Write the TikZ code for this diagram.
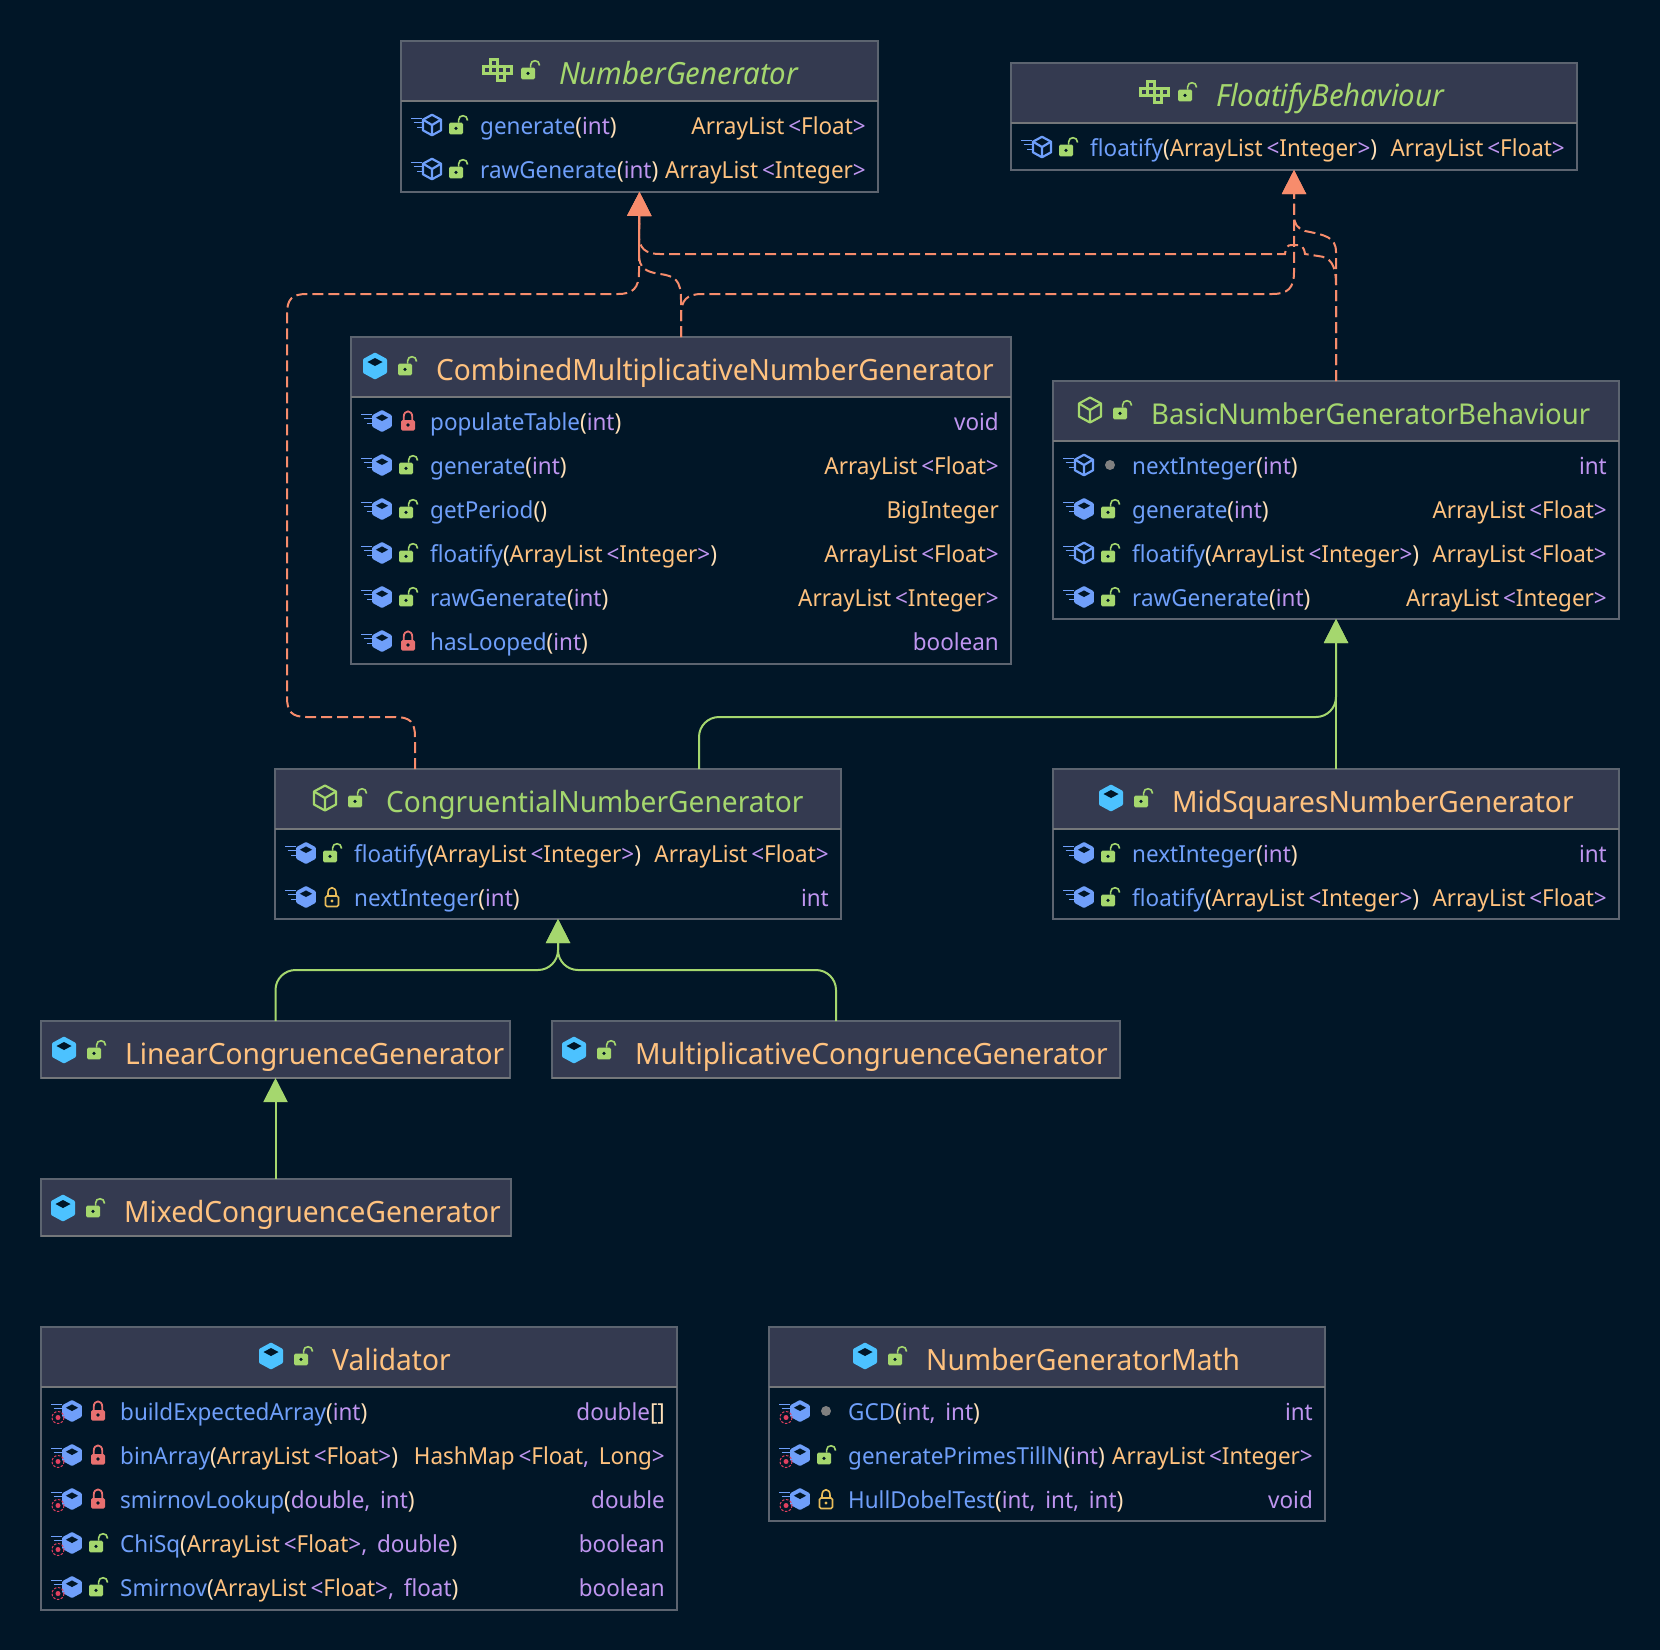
\documentclass[tikz,border=0pt]{standalone}
\usepackage{fontspec}
\usepackage{xcolor}
\usetikzlibrary{calc,arrows.meta}
\setmainfont[FakeStretch=0.96]{Noto Sans}
\definecolor{bgdeep}{HTML}{011627}
\definecolor{headfill}{HTML}{343A50}
\definecolor{frameline}{HTML}{5C6470}
\definecolor{headline}{HTML}{74777A}
\definecolor{ifacegreen}{HTML}{A5D76E}
\definecolor{classpeach}{HTML}{FFC27F}
\definecolor{cubecyan}{HTML}{4CC2FF}
\definecolor{fnblue}{HTML}{6F9FFA}
\definecolor{primpurple}{HTML}{BF95F0}
\definecolor{parencream}{HTML}{FFE0B8}
\definecolor{implorange}{HTML}{F78C6C}
\definecolor{lockred}{HTML}{E87070}
\definecolor{lockgold}{HTML}{E8BC5A}
\definecolor{dotgray}{HTML}{808080}
\definecolor{staticred}{HTML}{E0405F}
\newcommand{\titlesize}{\fontsize{29.3}{32}\selectfont}
\newcommand{\ifacesize}{\fontsize{30.6}{32}\selectfont}
\newcommand{\rowsize}{\fontsize{23.4}{28}\selectfont}
\newcommand{\ty}[1]{\textcolor{classpeach}{#1}}
\newcommand{\pr}[1]{\textcolor{primpurple}{#1}}
\newcommand{\cm}{\pr{,}\,\ }
\newcommand{\alist}[1]{\ty{ArrayList}\,\pr{<}\ty{#1}\pr{>}}
\newcommand{\meth}[2]{\textcolor{fnblue}{#1}\textcolor{parencream}{(}#2\textcolor{parencream}{)}}
\tikzset{
  classbox/.style={draw=frameline,line width=1.2,fill=bgdeep,anchor=north west,inner sep=0,outer sep=0},
  headbox/.style={draw=frameline,line width=1.2,fill=headfill,anchor=north west,inner sep=0,outer sep=0},
  classname/.style={anchor=base west,inner sep=0,font=\titlesize},
  rowleft/.style={anchor=base west,inner sep=0,font=\rowsize},
  rowright/.style={anchor=base east,inner sep=0,font=\rowsize},
  implements/.style={implorange,line width=2,dash pattern=on 11 off 5,-{Triangle[length=24,width=24]}},
  extends/.style={ifacegreen,line width=2,rounded corners=20,-{Triangle[length=24,width=24]}},
  pics/cubesolid/.style={code={
    \fill[#1,rounded corners=1] (0,-13.5)--(12,-7)--(12,7)--(0,13.5)--(-12,7)--(-12,-7)--cycle;
    \fill[bgdeep] (0,-8)--(7.5,-4)--(0,0)--(-7.5,-4)--cycle;}},
  pics/cubeline/.style={code={
    \draw[#1,line width=2.2,line join=round] (0,-12.5)--(11,-6.5)--(11,6.5)--(0,12.5)--(-11,6.5)--(-11,-6.5)--cycle;
    \draw[#1,line width=2.2,line join=round] (-11,-6.5)--(0,0)--(11,-6.5) (0,0)--(0,12.5);}},
  pics/ifaceicon/.style={code={
    \foreach \cx/\cy in {-11/0,-4/0,3/0,10/0,-4/-7,3/7}{
      \draw[ifacegreen,line width=2.1] (\cx-3.5,\cy-3.5) rectangle (\cx+3.5,\cy+3.5);}}},
  pics/lockopen/.style={code={
    \fill[ifacegreen,rounded corners=1.5] (-7,-2.5) rectangle (7,9.3);
    \fill[bgdeep] (0,3.4) circle (1.8);
    \draw[ifacegreen,line width=1.6] (2.6,-2.5)--(2.6,-5) .. controls (2.6,-10.8) and (11.6,-10.8) .. (11.6,-4.5);}},
  pics/lockshut/.style={code={
    \fill[lockred,rounded corners=1.5] (-5,-1) rectangle (9,9.5);
    \fill[bgdeep] (2,4) circle (1.8);
    \draw[lockred,line width=1.8] (-2.3,-1)--(-2.3,-4) .. controls (-2.3,-11.5) and (6.3,-11.5) .. (6.3,-4)--(6.3,-1);}},
  pics/lockgate/.style={code={
    \draw[lockgold,line width=1.6,rounded corners=1.5] (-4.5,-1) rectangle (8.5,9.5);
    \fill[lockgold] (2,4) circle (1.7);
    \draw[lockgold,line width=1.6] (-2,-1)--(-2,-4) .. controls (-2,-11) and (6,-11) .. (6,-4)--(6,-1);}},
  pics/lockdot/.style={code={\fill[dotgray] (2,0) circle (5);}},
  pics/rowlines/.style={code={
    \draw[fnblue,line width=1.5] (-21,-6.7)--(-10.5,-6.7) (-18.5,-2.3)--(-10.5,-2.3) (-15,2.7)--(-10.5,2.7);}},
  pics/rowline/.style={code={\pic {rowlines}; \pic[scale=.82] {cubeline=fnblue};}},
  pics/rowsolid/.style={code={\pic {rowlines}; \pic[scale=.82] {cubesolid=fnblue};}},
  pics/rowstatic/.style={code={
    \draw[fnblue,line width=1.5] (-21,-6.7)--(-10.5,-6.7) (-18.5,-2.3)--(-10.5,-2.3);
    \pic[scale=.82] {cubesolid=fnblue};
    \draw[staticred,line width=1,dash pattern=on 2.5 off 1.5] (-14,6.5) circle (6);
    \fill[staticred] (-14,6.5) circle (2.5);}},
}
\newcommand{\umlclass}[9]{
  \node[classbox,minimum width=#4,minimum height=#5] (#1) at (#2,#3) {};
  \node[headbox,minimum width=#4,minimum height=#6] (#1head) at (#2,#3) {};
  \draw[headline,line width=2] (#1head.south west)--(#1head.south east);
  \node[classname] (#1title) at (#7,#3+43) {#9};
  \pic at ($(#1title.base west)+(-61,-14)$) {#8};
  \pic at ($(#1title.base west)+(-31,-14)$) {lockopen};
}
\newcommand{\umlrows}[2]{
  \foreach \mi/\lk/\lbl/\ret [count=\i] in {#2}{
    \pic at ($(#1head.south west)+(31,24+44*\i-44)$) {\mi};
    \pic at ($(#1head.south west)+(55,24+44*\i-44)$) {\lk};
    \node[rowleft] (#1name\i) at ($(#1head.south west)+(79,33+44*\i-44)$) {\lbl};
    \node[rowright] (#1type\i) at ($(#1head.south east)+(-12,33+44*\i-44)$) {\ret};
  }
}
\begin{document}
\begin{tikzpicture}[x=1pt,y=-1pt]
\fill[bgdeep] (0,0) rectangle (1660,1650);
\useasboundingbox (0,0) rectangle (1660,1650);
% interfaces
\umlclass{numgen}{401}{41}{477}{151}{60}{559}{ifaceicon}{\color{ifacegreen}\ifacesize\itshape NumberGenerator}
\umlrows{numgen}{rowline/lockopen/{\meth{generate}{\pr{int}}}/{\alist{Float}},
  rowline/lockopen/{\meth{rawGenerate}{\pr{int}}}/{\alist{Integer}}}
\umlclass{floaty}{1011}{63}{566}{107}{60}{1216}{ifaceicon}{\color{ifacegreen}\ifacesize\itshape FloatifyBehaviour}
\umlrows{floaty}{rowline/lockopen/{\meth{floatify}{\alist{Integer}}}/{\alist{Float}}}
% implementations
\umlclass{combined}{351}{337}{660}{327}{60}{436}{cubesolid=cubecyan}{\color{classpeach}CombinedMultiplicativeNumberGenerator}
\umlrows{combined}{rowsolid/lockshut/{\meth{populateTable}{\pr{int}}}/{\pr{void}},
  rowsolid/lockopen/{\meth{generate}{\pr{int}}}/{\alist{Float}},
  rowsolid/lockopen/{\meth{getPeriod}{}}/{\ty{BigInteger}},
  rowsolid/lockopen/{\meth{floatify}{\alist{Integer}}}/{\alist{Float}},
  rowsolid/lockopen/{\meth{rawGenerate}{\pr{int}}}/{\alist{Integer}},
  rowsolid/lockshut/{\meth{hasLooped}{\pr{int}}}/{\pr{boolean}}}
\umlclass{basic}{1053}{381}{566}{238}{60}{1151}{cubeline=ifacegreen}{\color{ifacegreen}\fontsize{28.7}{32}\selectfont BasicNumberGeneratorBehaviour}
\umlrows{basic}{rowline/lockdot/{\meth{nextInteger}{\pr{int}}}/{\pr{int}},
  rowsolid/lockopen/{\meth{generate}{\pr{int}}}/{\alist{Float}},
  rowline/lockopen/{\meth{floatify}{\alist{Integer}}}/{\alist{Float}},
  rowsolid/lockopen/{\meth{rawGenerate}{\pr{int}}}/{\alist{Integer}}}
\umlclass{congruent}{275}{769}{566}{150}{60}{386}{cubeline=ifacegreen}{\color{ifacegreen}CongruentialNumberGenerator}
\umlrows{congruent}{rowsolid/lockopen/{\meth{floatify}{\alist{Integer}}}/{\alist{Float}},
  rowsolid/lockgate/{\meth{nextInteger}{\pr{int}}}/{\pr{int}}}
\umlclass{midsq}{1053}{769}{566}{150}{60}{1172}{cubesolid=cubecyan}{\color{classpeach}MidSquaresNumberGenerator}
\umlrows{midsq}{rowsolid/lockopen/{\meth{nextInteger}{\pr{int}}}/{\pr{int}},
  rowsolid/lockopen/{\meth{floatify}{\alist{Integer}}}/{\alist{Float}}}
\umlclass{linear}{41}{1021}{469}{57}{57}{125}{cubesolid=cubecyan}{\color{classpeach}LinearCongruenceGenerator}
\umlclass{multi}{552}{1021}{568}{57}{57}{635}{cubesolid=cubecyan}{\color{classpeach}MultiplicativeCongruenceGenerator}
\umlclass{mixed}{41}{1179}{470}{57}{57}{124}{cubesolid=cubecyan}{\color{classpeach}MixedCongruenceGenerator}
% helpers
\umlclass{validator}{41}{1327}{636}{283}{60}{332}{cubesolid=cubecyan}{\color{classpeach}Validator}
\umlrows{validator}{rowstatic/lockshut/{\meth{buildExpectedArray}{\pr{int}}}/{\pr{double}\textcolor{parencream}{[]}},
  rowstatic/lockshut/{\meth{binArray}{\alist{Float}}}/{\ty{HashMap}\,\pr{<}\ty{Float}\cm\ty{Long}\pr{>}},
  rowstatic/lockshut/{\meth{smirnovLookup}{\pr{double}\cm\pr{int}}}/{\pr{double}},
  rowstatic/lockopen/{\meth{ChiSq}{\alist{Float}\cm\pr{double}}}/{\pr{boolean}},
  rowstatic/lockopen/{\meth{Smirnov}{\alist{Float}\cm\pr{float}}}/{\pr{boolean}}}
\umlclass{genmath}{769}{1327}{556}{194}{60}{926}{cubesolid=cubecyan}{\color{classpeach}NumberGeneratorMath}
\umlrows{genmath}{rowstatic/lockdot/{\meth{GCD}{\pr{int}\cm\pr{int}}}/{\pr{int}},
  rowstatic/lockopen/{\meth{generatePrimesTillN}{\pr{int}}}/{\alist{Integer}},
  rowstatic/lockgate/{\meth{HullDobelTest}{\pr{int}\cm\pr{int}\cm\pr{int}}}/{\pr{void}}}
% connectors
\coordinate (congruentdep) at (415,769);
\coordinate (congruentext) at (699,769);
\draw[implements] (congruentdep)--(415,737) .. controls (415,722) and (410,717) .. (395,717)--(307,717)
  .. controls (292,717) and (287,712) .. (287,697)--(287,314) .. controls (287,299) and (292,294) .. (307,294)
  --(618,294) .. controls (633,294) and (639,288) .. (639,272)--(numgen.south);
\draw[implements] (combined.north)--(681,300) .. controls (681,280) and (675,276) .. (660,274)
  .. controls (646,272) and (639,268) .. (639,255)--(numgen.south);
\draw[implements] (combined.north)--(681,315) .. controls (681,300) and (687,294) .. (702,294)--(1272,294)
  .. controls (1288,294) and (1294,288) .. (1294,272)--(floaty.south);
\draw[implements] (basic.north)--(1336,285) .. controls (1336,264) and (1330,257) .. (1318,256)--(1305,254)
  .. controls (1304,247) and (1302,245) .. (1296,245)--(1292,245) .. controls (1287,245) and (1286,247) .. (1285,254)
  --(660,254) .. controls (645,254) and (639,248) .. (639,235)--(numgen.south);
\draw[implements] (basic.north)--(1336,252) .. controls (1336,237) and (1325,235) .. (1305,231)
  .. controls (1297,228) and (1294,224) .. (1294,215)--(floaty.south);
\draw[extends] (midsq.north)--(basic.south);
\draw[extends] (congruentext)--(699,717)--(1336,717)--(basic.south);
\draw[extends] (linear.north)--(275.5,970)--(558,970)--(congruent.south);
\draw[extends] (multi.north)--(836,970)--(558,970)--(congruent.south);
\draw[extends] (mixed.north -| linear.south)--(linear.south);
\end{tikzpicture}
\end{document}
